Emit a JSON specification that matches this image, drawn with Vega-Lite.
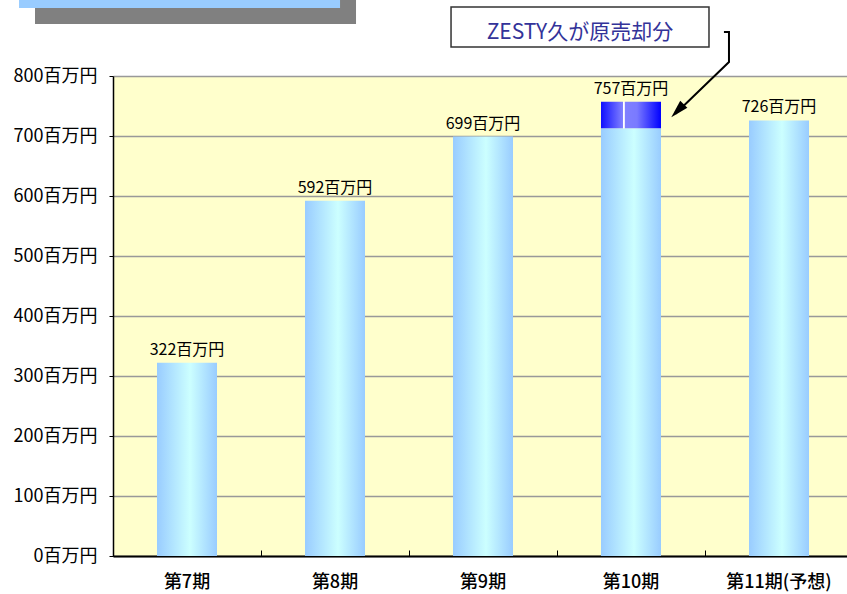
{
  "$schema": "https://vega.github.io/schema/vega-lite/v6.json",
  "width": 740,
  "height": 480,
  "autosize": {"type": "none"},
  "padding": {"left": 113, "top": 76, "right": 0, "bottom": 38},
  "background": "white",
  "config": {
    "view": {"fill": "#ffffcc", "stroke": null},
    "font": "Noto Sans CJK JP"
  },
  "datasets": {
    "sales": [
      {"period": "第7期", "base": 322, "total": 322, "label": "322百万円"},
      {"period": "第8期", "base": 592, "total": 592, "label": "592百万円"},
      {"period": "第9期", "base": 699, "total": 699, "label": "699百万円"},
      {"period": "第10期", "base": 713, "total": 757, "label": "757百万円"},
      {"period": "第11期(予想)", "base": 726, "total": 726, "label": "726百万円"}
    ],
    "boxes": [
      {"name": "shadow", "x": -0.527, "x2": 1.642, "y": 950, "y2": 886.7},
      {"name": "titlebox", "x": -0.635, "x2": 1.534, "y": 950, "y2": 913.3}
    ],
    "callout": [
      {"x": 2.284, "x2": 4.027, "y": 915, "y2": 848.3, "tx": 3.155, "ty": 871.7, "text": "ZESTY久が原売却分"}
    ],
    "arrow": [
      {"ord": 1, "x": 4.128, "y": 873.3},
      {"ord": 2, "x": 4.162, "y": 873.3},
      {"ord": 3, "x": 4.162, "y": 823.3},
      {"ord": 4, "x": 3.80, "y": 737}
    ],
    "head": [
      {"x": 3.823, "y": 744.2}
    ]
  },
  "layer": [
    {
      "data": {"name": "sales"},
      "layer": [
        {
          "mark": {
            "type": "bar",
            "width": 60,
            "color": {
              "gradient": "linear", "x1": 0, "x2": 1, "y1": 0, "y2": 0,
              "stops": [
                {"offset": 0, "color": "#99ccff"},
                {"offset": 0.55, "color": "#ccffff"},
                {"offset": 1, "color": "#99ccff"}
              ]
            }
          },
          "encoding": {
            "x": {
              "field": "period", "type": "nominal", "sort": null,
              "scale": {"paddingInner": 0, "paddingOuter": 0},
              "title": null,
              "axis": {
                "bandPosition": 0,
                "labelAngle": 0,
                "labelFontSize": 18,
                "labelFontWeight": 500,
                "labelColor": "#000000",
                "labelPadding": 23,
                "tickSize": -6,
                "tickColor": "#000000",
                "tickWidth": 1,
                "domainColor": "#000000",
                "domainWidth": 2,
                "grid": false
              }
            },
            "y": {
              "field": "base", "type": "quantitative",
              "scale": {"domain": [0, 800], "nice": false},
              "title": null,
              "axis": {
                "values": [0, 100, 200, 300, 400, 500, 600, 700, 800],
                "labelExpr": "datum.value + '百万円'",
                "labelFontSize": 18,
                "labelColor": "#000000",
                "labelPadding": 12,
                "tickSize": 4,
                "tickColor": "#000000",
                "domainColor": "#000000",
                "domainWidth": 1.5,
                "grid": true,
                "gridColor": "#999999",
                "gridWidth": 1.5
              }
            }
          }
        },
        {
          "transform": [{"filter": "datum.total > datum.base"}],
          "mark": {
            "type": "bar",
            "width": 60,
            "color": {
              "gradient": "linear", "x1": 0, "x2": 1, "y1": 0, "y2": 0,
              "stops": [
                {"offset": 0, "color": "#1010ff"},
                {"offset": 0.36, "color": "#7f7fff"},
                {"offset": 0.37, "color": "#ffffff"},
                {"offset": 0.39, "color": "#ffffff"},
                {"offset": 0.4, "color": "#8080ff"},
                {"offset": 0.6, "color": "#7a7aff"},
                {"offset": 1, "color": "#0000ff"}
              ]
            }
          },
          "encoding": {
            "x": {"field": "period", "type": "nominal", "sort": null},
            "y": {"field": "base", "type": "quantitative", "scale": {"domain": [0, 800], "nice": false}, "title": null},
            "y2": {"field": "total"}
          }
        },
        {
          "mark": {"type": "text", "fontSize": 16, "color": "#000000", "baseline": "alphabetic", "dy": -8},
          "encoding": {
            "x": {"field": "period", "type": "nominal", "sort": null},
            "y": {"field": "total", "type": "quantitative", "scale": {"domain": [0, 800], "nice": false}, "title": null},
            "text": {"field": "label"}
          }
        }
      ]
    },
    {
      "layer": [
        {
          "data": {"name": "boxes"},
          "mark": {"type": "rect", "clip": false},
          "encoding": {
            "x": {"field": "x", "type": "quantitative", "scale": {"domain": [0, 5], "nice": false, "zero": false}, "axis": null},
            "x2": {"field": "x2"},
            "y": {"field": "y", "type": "quantitative", "scale": {"domain": [0, 800], "nice": false}, "title": null},
            "y2": {"field": "y2"},
            "color": {
              "field": "name", "type": "nominal",
              "scale": {"domain": ["shadow", "titlebox"], "range": ["#808080", "#99ccff"]},
              "legend": null
            },
            "order": {"field": "name", "sort": "ascending"}
          }
        },
        {
          "data": {"name": "callout"},
          "mark": {"type": "rect", "fill": "#ffffff", "stroke": "#333333", "strokeWidth": 1.5, "clip": false},
          "encoding": {
            "x": {"field": "x", "type": "quantitative", "scale": {"domain": [0, 5], "nice": false, "zero": false}, "axis": null},
            "x2": {"field": "x2"},
            "y": {"field": "y", "type": "quantitative", "scale": {"domain": [0, 800], "nice": false}, "title": null},
            "y2": {"field": "y2"}
          }
        },
        {
          "data": {"name": "callout"},
          "mark": {"type": "text", "fontSize": 21, "color": "#333399", "align": "center", "baseline": "middle", "clip": false},
          "encoding": {
            "x": {"field": "tx", "type": "quantitative", "scale": {"domain": [0, 5], "nice": false, "zero": false}, "axis": null},
            "y": {"field": "ty", "type": "quantitative", "scale": {"domain": [0, 800], "nice": false}, "title": null},
            "text": {"field": "text"}
          }
        },
        {
          "data": {"name": "arrow"},
          "mark": {"type": "line", "color": "#000000", "strokeWidth": 2, "clip": false},
          "encoding": {
            "x": {"field": "x", "type": "quantitative", "scale": {"domain": [0, 5], "nice": false, "zero": false}, "axis": null},
            "y": {"field": "y", "type": "quantitative", "scale": {"domain": [0, 800], "nice": false}, "title": null},
            "order": {"field": "ord", "type": "quantitative"}
          }
        },
        {
          "data": {"name": "head"},
          "mark": {
            "type": "point",
            "shape": "M0,-1.2L0.55,0.8L-0.55,0.8Z",
            "filled": true,
            "color": "#000000",
            "opacity": 1,
            "size": 324,
            "angle": 224,
            "clip": false
          },
          "encoding": {
            "x": {"field": "x", "type": "quantitative", "scale": {"domain": [0, 5], "nice": false, "zero": false}, "axis": null},
            "y": {"field": "y", "type": "quantitative", "scale": {"domain": [0, 800], "nice": false}, "title": null}
          }
        }
      ]
    }
  ],
  "resolve": {"scale": {"x": "independent"}}
}
